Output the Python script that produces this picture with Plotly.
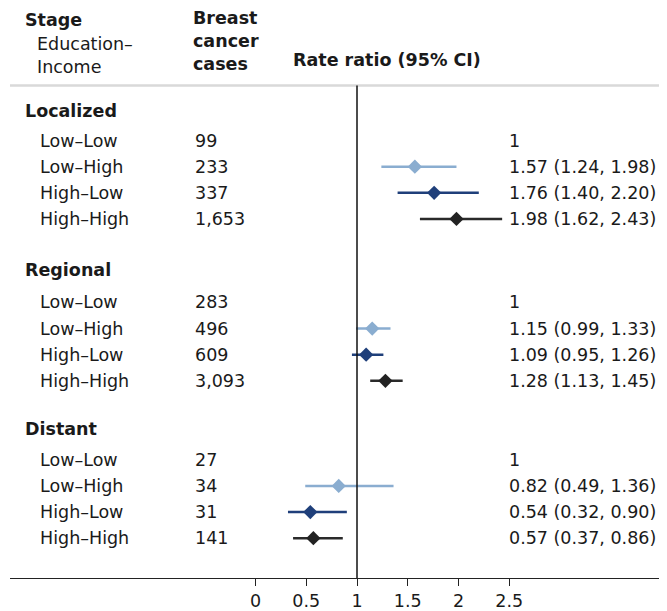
import plotly.graph_objects as go

# ---------------- data ----------------
stages = ["Localized", "Regional", "Distant"]
edu_income = ["Low–Low", "Low–High", "High–Low", "High–High"]

localized_cases = ["99", "233", "337", "1,653"]
regional_cases = ["283", "496", "609", "3,093"]
distant_cases = ["27", "34", "31", "141"]

localized_rr = [1, 1.57, 1.76, 1.98]
localized_lo = [None, 1.24, 1.40, 1.62]
localized_hi = [None, 1.98, 2.20, 2.43]

regional_rr = [1, 1.15, 1.09, 1.28]
regional_lo = [None, 0.99, 0.95, 1.13]
regional_hi = [None, 1.33, 1.26, 1.45]

distant_rr = [1, 0.82, 0.54, 0.57]
distant_lo = [None, 0.49, 0.32, 0.37]
distant_hi = [None, 1.36, 0.90, 0.86]

tick_vals = [0, 0.5, 1, 1.5, 2, 2.5]
tick_text = ["0", "0.5", "1", "1.5", "2", "2.5"]

# ---------------- layout helpers ----------------
OFF = 8                      # page body margin in the browser
PAGE_W, PAGE_H = 667, 611
W, H = PAGE_W - OFF, PAGE_H - OFF
AXIS_PAGE_Y = 582
LEFT_PAGE_X = 10
ML, MR, MT = LEFT_PAGE_X - OFF, 0, 0
MB = PAGE_H - AXIS_PAGE_Y
PLOT_H = H - MT - MB
PLOT_W = W - ML - MR
ROW_PX = 26.3
ROW0_PAGE = 141.5


def px_to_row(p):
    return (p - ROW0_PAGE) / ROW_PX


def px_x_to_paper(p):
    return (p - OFF - ML) / PLOT_W


def px_y_to_paper(p):
    return (PLOT_H - (p - OFF - MT)) / PLOT_H


stage_first_row = [0.0, px_to_row(304.5), px_to_row(463)]
stage_header_row = [px_to_row(112), px_to_row(271.5), px_to_row(432)]

colors = ["#8aadd0", "#8aadd0", "#1f3f7a", "#222222"]
line_colors = ["#8aadd0", "#8aadd0", "#1f3f7a", "#2a2a2a"]

FONT = "DejaVu Sans"
FS = 17.5
TXT = "#1a1a1a"

all_cases = [localized_cases, regional_cases, distant_cases]
all_rr = [localized_rr, regional_rr, distant_rr]
all_lo = [localized_lo, regional_lo, distant_lo]
all_hi = [localized_hi, regional_hi, distant_hi]

fig = go.Figure()

# one trace per education-income group (reference Low-Low has no interval)
for gi in range(1, 4):
    xs, ys, plus, minus = [], [], [], []
    for si in range(3):
        rr = all_rr[si][gi]
        xs.append(rr)
        ys.append(stage_first_row[si] + gi)
        plus.append(all_hi[si][gi] - rr)
        minus.append(rr - all_lo[si][gi])
    fig.add_trace(go.Scatter(
        x=xs, y=ys, mode="markers",
        marker=dict(symbol="diamond", size=11, color=colors[gi]),
        error_x=dict(type="data", symmetric=False, array=plus, arrayminus=minus,
                     width=0, thickness=2.5, color=line_colors[gi]),
        hoverinfo="skip", showlegend=False,
    ))

annotations = []


def add_text(text, xpx, y, yref="y", bold=False):
    if bold:
        text = "<b>" + text + "</b>"
    annotations.append(dict(
        text=text, x=px_x_to_paper(xpx - 2), xref="paper", y=y, yref=yref,
        xanchor="left", yanchor="middle", showarrow=False, align="left",
        font=dict(family=FONT, size=FS, color=TXT),
    ))


# column headers
add_text("Stage", 25, px_y_to_paper(20), "paper", bold=True)
add_text("Education–", 37, px_y_to_paper(44), "paper")
add_text("Income", 37, px_y_to_paper(67), "paper")
add_text("Breast<br>cancer<br>cases", 193, px_y_to_paper(41), "paper", bold=True)
add_text("Rate ratio (95% CI)", 293, px_y_to_paper(60), "paper", bold=True)

for si, st in enumerate(stages):
    add_text(st, 25, stage_header_row[si], bold=True)
    for gi, g in enumerate(edu_income):
        y = stage_first_row[si] + gi
        add_text(g, 40, y)
        add_text(all_cases[si][gi], 195, y)
        rr = all_rr[si][gi]
        if all_lo[si][gi] is None:
            est = "1"
        else:
            est = f"{rr:.2f} ({all_lo[si][gi]:.2f}, {all_hi[si][gi]:.2f})"
        add_text(est, 509, y)

shapes = [
    dict(type="line", xref="paper", yref="paper", x0=0, x1=1,
         y0=px_y_to_paper(86), y1=px_y_to_paper(86),
         line=dict(color="#d9d9d9", width=2.5)),
    dict(type="line", xref="x", yref="paper", x0=1, x1=1,
         y0=0, y1=px_y_to_paper(86), line=dict(color="#111111", width=1.5)),
]

x_unit = 101.5
x0_page = 255.5
fig.update_layout(
    width=W, height=H,
    margin=dict(l=ML, r=MR, t=MT, b=MB, pad=0),
    paper_bgcolor="white", plot_bgcolor="white",
    showlegend=False,
    annotations=annotations,
    shapes=shapes,
    font=dict(family=FONT, size=FS, color=TXT),
    xaxis=dict(
        range=[(LEFT_PAGE_X - x0_page) / x_unit, (PAGE_W - x0_page) / x_unit],
        tickvals=tick_vals, ticktext=tick_text,
        showline=True, linecolor="#222222", linewidth=1.3,
        ticks="outside", ticklen=7, tickwidth=1.3, tickcolor="#222222",
        showgrid=False, zeroline=False, fixedrange=True,
        tickfont=dict(family=FONT, size=FS, color=TXT),
    ),
    yaxis=dict(
        range=[px_to_row(AXIS_PAGE_Y), px_to_row(OFF)],
        visible=False, showgrid=False, zeroline=False, fixedrange=True,
    ),
)

fig.write_html("out.html", config={"displayModeBar": False})
